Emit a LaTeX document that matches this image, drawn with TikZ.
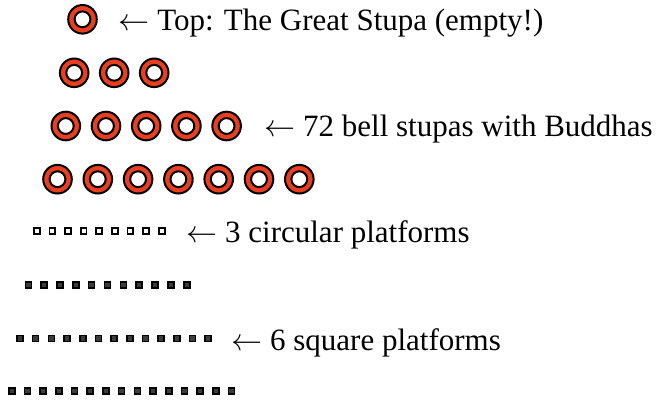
\RequirePackage{fix-cm}
\documentclass[tikz,border=0pt]{standalone}
\usepackage{fontspec}
\setmainfont{Liberation Serif}
\definecolor{stupared}{RGB}{234,62,30}
\definecolor{sqgray}{RGB}{60,60,60}
\tikzset{
  x=1pt, y=1pt,
  label/.style={anchor=base west, inner sep=0pt, font=\fontsize{31}{36}\selectfont},
  stupa/.pic={\path[fill=stupared, draw=black, line width=2pt, even odd rule] (0,0) circle (14.3) (0,0) circle (7.9);},
  wsq/.pic={\path[fill=white, draw=black, line width=1.8pt] (-2.9,-2.9) rectangle (2.9,2.9);},
  bsq/.pic={\path[fill=sqgray, draw=black, line width=1.6pt] (-3,-3) rectangle (3,3);}
}
\begin{document}
\begin{tikzpicture}
\useasboundingbox (0,0) rectangle (662,-400);
% bell stupa rows
\pic at (82.5,-19.3) {stupa};
\foreach \k in {0,...,2} \pic at ({74.2+40*\k},-72.8) {stupa};
\foreach \k in {0,...,4} \pic at ({65.8+40.2*\k},-126) {stupa};
\foreach \k in {0,...,6} \pic at ({57.5+40.3*\k},-179.2) {stupa};
% platforms
\foreach \k in {0,...,8} \pic at ({36.7+15.63*\k},-231) {wsq};
\foreach \k in {0,...,10} \pic at ({28.3+15.84*\k},-285) {bsq};
\foreach \k in {0,...,12} \pic at ({20+15.69*\k},-338.5) {bsq};
\foreach \k in {0,...,14} \pic at ({11.7+15.71*\k},-391) {bsq};
% labels
\node[label] (t1) at (118.3,-30.8) {$\leftarrow$ Top: The Great Stupa (empty!)};
\node[label] (t2) at (264.2,-136.7) {$\leftarrow$ 72 bell stupas with Buddhas};
\node[label] (t3) at (186.2,-242.5) {$\leftarrow$ 3 circular platforms};
\node[label] (t4) at (231.2,-350.2) {$\leftarrow$ 6 square platforms};
\end{tikzpicture}
\end{document}
